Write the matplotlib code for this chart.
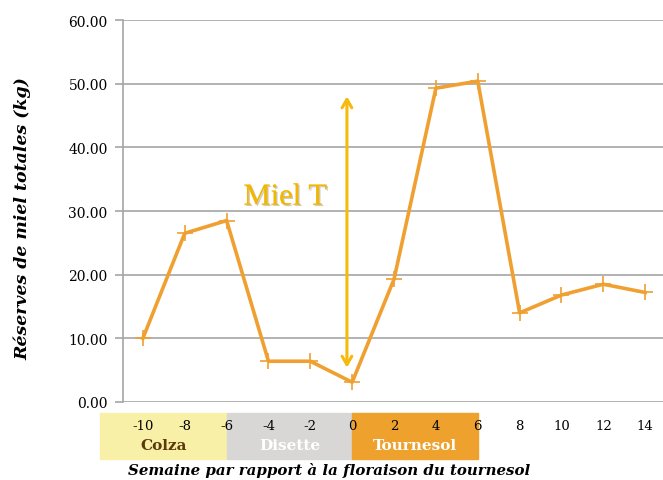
import matplotlib
matplotlib.use("Agg")
import matplotlib.pyplot as plt
import matplotlib.patheffects as pe
from matplotlib.transforms import blended_transform_factory

weeks = [-10, -8, -6, -4, -2, 0, 2, 4, 6, 8, 10, 12, 14]
reserves = [10.0, 26.5, 28.5, 6.4, 6.4, 3.1, 19.3, 49.3, 50.4, 14.0, 16.8, 18.5, 17.2]
yticks = [0, 10, 20, 30, 40, 50, 60]
periods = ["Colza", "Disette", "Tournesol"]
period_starts = [-12.05, -6, 0]
period_ends = [-6, 0, 6]
period_colors = ["#F8F0A6", "#D9D7D6", "#EFA12E"]
period_text_colors = ["#5A3A0A", "#FFFFFF", "#FFFFFF"]
arrow_x = -0.25
arrow_top, arrow_bottom = 48.0, 5.4

plt.rcParams['font.family'] = ['DejaVu Serif']
fig = plt.figure(figsize=(6.63, 4.81), dpi=100)
ax = fig.add_axes([0.1855, 0.1622, 0.8145, 0.7941])

ax.set_xlim(-10.95, 14.85)
ax.set_ylim(0, 60)
ax.set_yticks(yticks)
ax.set_yticklabels([f"{v:.2f}" for v in yticks], fontsize=10)
ax.grid(axis='y', color='#A6A6A6', lw=1.2)
ax.set_axisbelow(True)
for s in ['top', 'right', 'bottom']:
    ax.spines[s].set_visible(False)
ax.spines['left'].set_color('#A6A6A6')
ax.spines['left'].set_linewidth(1.2)
ax.tick_params(axis='y', length=6, color='#A6A6A6', width=1.2, pad=5)
ax.set_xticks(weeks)
ax.set_xticklabels([str(w) for w in weeks], fontsize=9.5)
ax.tick_params(axis='x', length=0, pad=12)

ax.plot(weeks, reserves, color='#F0A030', lw=2.6, marker='+', ms=12, mew=1.2,
        clip_on=False, zorder=3)

trans = blended_transform_factory(ax.transData, ax.transAxes)
for name, x0, x1, c, tc in zip(periods, period_starts, period_ends, period_colors, period_text_colors):
    r = plt.Rectangle((x0, -0.149), x1 - x0, 0.12, transform=trans, color=c,
                      clip_on=False, zorder=0)
    ax.add_patch(r)
    ax.text((x0 + x1) / 2, -0.113, name, transform=trans, ha='center', va='center',
            fontsize=11, fontweight='bold', color=tc)

ax.annotate('', xy=(arrow_x, arrow_top), xytext=(arrow_x, arrow_bottom),
            arrowprops=dict(arrowstyle='<->,head_length=0.6,head_width=0.35',
                            color='#F6BA0C', lw=2.2, shrinkA=0, shrinkB=0))
ax.text(-3.2, 29.9, "Miel T", fontsize=22, color='#F2B705', ha='center', va='bottom',
        family='Liberation Serif',
        path_effects=[pe.withSimplePatchShadow(offset=(1, -1), shadow_rgbFace='#999999', alpha=0.5), pe.Normal()])

fig.text(0.034, 0.545, "Réserves de miel totales (kg)", rotation=90, ha='center', va='center',
         fontsize=12.5, fontweight='bold', style='italic')
fig.text(0.496, 0.021, "Semaine par rapport à la floraison du tournesol", ha='center', va='center',
         fontsize=10.8, fontweight='bold', style='italic')

fig.savefig("out.png", dpi=100)
